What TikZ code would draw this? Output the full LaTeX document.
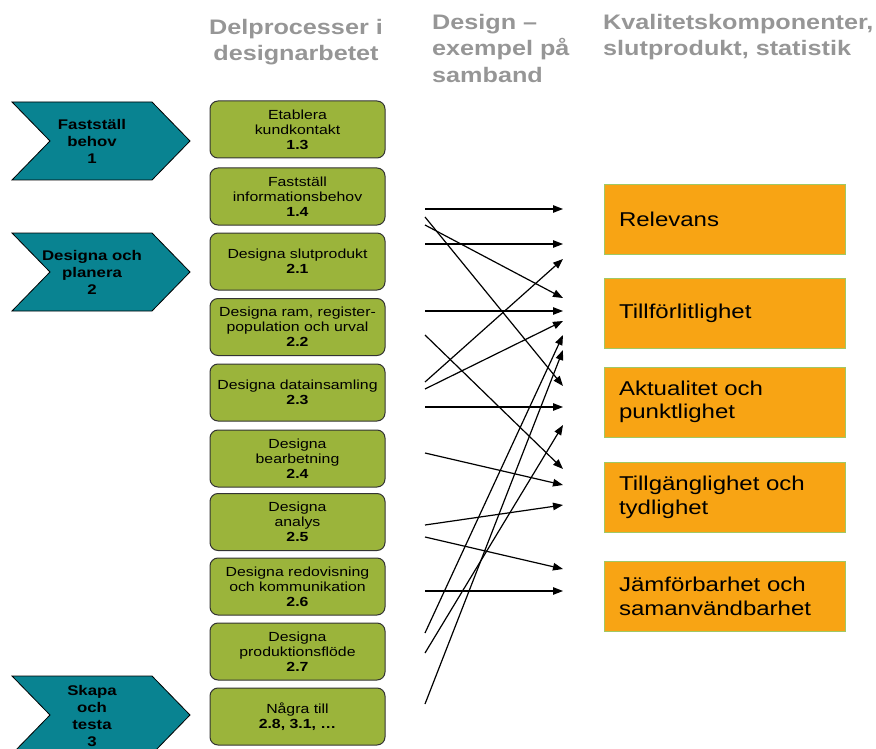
\documentclass[tikz,border=0pt]{standalone}
\usepackage{fontspec}
\setmainfont{Liberation Sans}[FakeStretch=1.2]
\usetikzlibrary{arrows.meta}
\definecolor{chevcol}{RGB}{9,131,145}
\definecolor{boxgreen}{RGB}{155,180,59}
\definecolor{boxorange}{RGB}{248,164,20}
\definecolor{oborder}{RGB}{160,200,100}
\definecolor{headgray}{RGB}{150,150,150}
\tikzset{
  chev/.style={fill=chevcol, draw=black, line width=0.8pt},
  chevtext/.style={align=center, font=\fontsize{14}{17}\selectfont\bfseries, inner sep=0pt},
  subbox/.style={draw=black!80, line width=1pt, fill=boxgreen, rounded corners=8pt,
    minimum width=175pt, minimum height=57pt, align=center, inner sep=1pt,
    font=\fontsize{13.2}{15.2}\selectfont},
  qbox/.style={draw=oborder, line width=0.8pt, fill=boxorange,
    minimum width=241pt, minimum height=70pt, text width=211pt, inner xsep=15pt,
    align=left, font=\fontsize{20}{23.5}\selectfont},
  header/.style={text=headgray, font=\fontsize{21}{26.5}\selectfont\bfseries, inner sep=0pt},
  conn/.style={line width=1.2pt, -{Triangle[length=10pt,width=7.5pt]}}
}
\begin{document}
\begin{tikzpicture}[x=1pt,y=-1pt]
\useasboundingbox (0,0) rectangle (876,749);
\clip (0,0) rectangle (876,749);
% headers
\node[header, align=center, anchor=north] (h1) at (296,19) {Delprocesser i\\designarbetet};
\node[header, align=left, anchor=north west] (h2) at (432,14) {Design –\\exempel på\\samband};
\node[header, align=left, anchor=north west] (h3) at (603,14) {Kvalitetskomponenter,\\slutprodukt, statistik};
% chevrons
\draw[chev] (12,102) -- (152,102) -- (190,141) -- (152,180) -- (12,180) -- (50,141) -- cycle;
\node[chevtext] (c1) at (92,141) {Fastställ\\behov\\1};
\draw[chev] (12,233) -- (152,233) -- (190,272) -- (152,311) -- (12,311) -- (50,272) -- cycle;
\node[chevtext] (c2) at (92,272) {Designa och\\planera\\2};
\draw[chev] (12,676) -- (152,676) -- (190,715) -- (152,754) -- (12,754) -- (50,715) -- cycle;
\node[chevtext] (c3) at (92,716) {Skapa\\och\\testa\\3};
% sub-process boxes
\node[subbox] (g1) at (297.5,129.5) {Etablera\\kundkontakt\\\textbf{1.3}};
\node[subbox] (g2) at (297.5,196.5) {Fastställ\\informationsbehov\\\textbf{1.4}};
\node[subbox] (g3) at (297.5,261.5) {Designa slutprodukt\\\textbf{2.1}};
\node[subbox] (g4) at (297.5,327) {Designa ram, register-\\population och urval\\\textbf{2.2}};
\node[subbox] (g5) at (297.5,392.5) {Designa datainsamling\\\textbf{2.3}};
\node[subbox] (g6) at (297.5,458.5) {Designa\\bearbetning\\\textbf{2.4}};
\node[subbox] (g7) at (297.5,522) {Designa\\analys\\\textbf{2.5}};
\node[subbox] (g8) at (297.5,586.5) {Designa redovisning\\och kommunikation\\\textbf{2.6}};
\node[subbox] (g9) at (297.5,651.5) {Designa\\produktionsflöde\\\textbf{2.7}};
\node[subbox] (g10) at (297.5,716.5) {Några till\\\textbf{2.8, 3.1, …}};
% quality components
\node[qbox] (q1) at (724.5,219) {Relevans};
\node[qbox] (q2) at (724.5,313) {Tillförlitlighet};
\node[qbox] (q3) at (724.5,402) {Aktualitet och\\punktlighet};
\node[qbox] (q4) at (724.5,497.5) {Tillgänglighet och\\tydlighet};
\node[qbox] (q5) at (724.5,596.5) {Jämförbarhet och\\samanvändbarhet};
% connectors
\foreach \i/\ys/\ye in {1/209/209, 2/217/386, 3/225/298, 4/244/244, 5/311/311,
  6/335/469, 7/382/259, 8/389/321, 9/407/407, 10/453/485, 11/525/505,
  12/537/569, 13/591/591, 14/633/335, 15/653/425, 16/704/350} {
  \coordinate (s\i) at (425,\ys);
  \coordinate (e\i) at (563,\ye);
  \draw[conn] (s\i) -- (e\i);
}
\end{tikzpicture}
\end{document}
